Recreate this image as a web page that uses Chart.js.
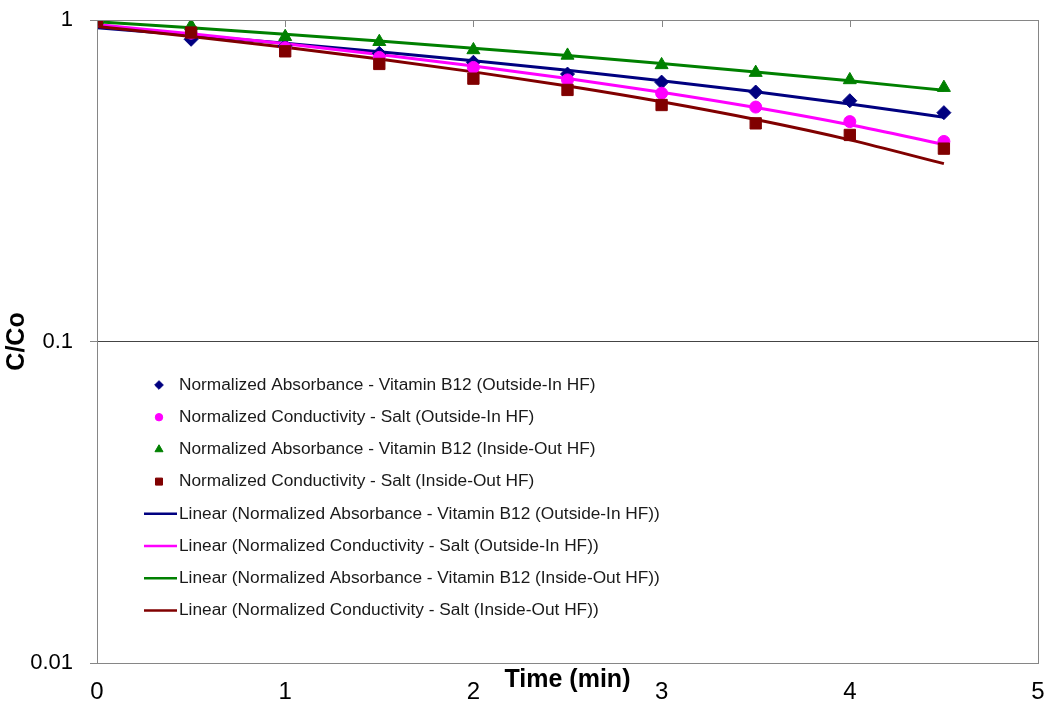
<!DOCTYPE html>
<html><head><meta charset="utf-8">
<script src="https://cdn.jsdelivr.net/npm/chart.js@4/dist/chart.umd.min.js"></script>
<style>html,body{margin:0;padding:0;background:#fff}canvas{display:block}</style>
</head><body>
<canvas id="c" width="1050" height="705"></canvas>
<script>
// ---- data ----
const timeMin = [0, 0.5, 1, 1.5, 2, 2.5, 3, 3.5, 4, 4.5];
const absB12OutsideIn = [1.0, 0.871, 0.83, 0.788, 0.739, 0.679, 0.641, 0.597, 0.561, 0.515];
const condSaltOutsideIn = [1.0, 0.91, 0.82, 0.765, 0.712, 0.651, 0.592, 0.536, 0.483, 0.419];
const absB12InsideOut = [1.0, 0.958, 0.887, 0.856, 0.807, 0.776, 0.725, 0.686, 0.651, 0.616];
const condSaltInsideOut = [1.0, 0.914, 0.799, 0.730, 0.657, 0.606, 0.544, 0.477, 0.439, 0.398];
const xTickValues = [0, 1, 2, 3, 4, 5];
const yTickValues = [0.01, 0.1, 1];
const seriesNames = [
  'Normalized Absorbance - Vitamin B12 (Outside-In HF)',
  'Normalized Conductivity - Salt (Outside-In HF)',
  'Normalized Absorbance - Vitamin B12 (Inside-Out HF)',
  'Normalized Conductivity - Salt (Inside-Out HF)'
];
const seriesValues = [absB12OutsideIn, condSaltOutsideIn, absB12InsideOut, condSaltInsideOut];
const seriesColors = ['#000080', '#FF00FF', '#008000', '#800000'];
const seriesMarkers = ['rectRot', 'circle', 'triangle', 'rect'];
const markerRadius = [7, 6, 7.5, 8];

// least-squares linear trendline (as Excel "Linear" trendline) evaluated at the data x's
function linearFit(xs, ys) {
  const n = xs.length;
  const mx = xs.reduce((a, b) => a + b, 0) / n;
  const my = ys.reduce((a, b) => a + b, 0) / n;
  let sxy = 0, sxx = 0;
  for (let i = 0; i < n; i++) { sxy += (xs[i] - mx) * (ys[i] - my); sxx += (xs[i] - mx) ** 2; }
  const b = sxy / sxx, a = my - b * mx;
  return xs.map(x => ({ x: x, y: a + b * x }));
}

const datasets = [];
seriesValues.forEach((vals, i) => {
  datasets.push({
    label: seriesNames[i],
    data: timeMin.map((t, k) => ({ x: t, y: vals[k] })),
    showLine: false,
    pointStyle: seriesMarkers[i],
    pointRadius: markerRadius[i],
    pointHoverRadius: markerRadius[i],
    backgroundColor: seriesColors[i],
    borderColor: seriesColors[i],
    borderWidth: 1,
    order: 3 - i
  });
});
seriesValues.forEach((vals, i) => {
  datasets.push({
    label: 'Linear (' + seriesNames[i] + ')',
    data: linearFit(timeMin, vals),
    showLine: true,
    pointRadius: 0,
    borderColor: seriesColors[i],
    backgroundColor: seriesColors[i],
    borderWidth: 3,
    cubicInterpolationMode: 'monotone',
    fill: false,
    order: 7 - i
  });
});

Chart.defaults.font.family = '"Liberation Sans", Arial, sans-serif';
Chart.defaults.color = '#000';

const frameAndLegend = {
  id: 'frameAndLegend',
  afterDraw(chart) {
    const ctx = chart.ctx;
    const area = chart.chartArea;
    const xs = chart.scales.x;
    ctx.save();
    // plot frame
    ctx.strokeStyle = '#868686';
    ctx.lineWidth = 1;
    ctx.strokeRect(Math.round(area.left) + 0.5, Math.round(area.top) + 0.5,
      Math.round(area.right - area.left), Math.round(area.bottom - area.top));
    // x-axis crosses at 1 (top): tick marks pointing down
    xs.ticks.forEach(t => {
      const px = Math.round(xs.getPixelForValue(t.value)) + 0.5;
      ctx.beginPath();
      ctx.moveTo(px, area.top);
      ctx.lineTo(px, area.top + 7);
      ctx.stroke();
    });
    // legend inside plot
    const lx = 159, ly0 = 385, dy = 32.2, tx = 179;
    ctx.font = '17.3px "Liberation Sans", Arial, sans-serif';
    ctx.textBaseline = 'middle';
    ctx.textAlign = 'left';
    chart.data.datasets.forEach((ds, i) => {
      const y = ly0 + i * dy;
      if (ds.showLine) {
        ctx.strokeStyle = ds.borderColor;
        ctx.lineWidth = 2.5;
        ctx.beginPath();
        ctx.moveTo(144, y);
        ctx.lineTo(177, y);
        ctx.stroke();
      } else {
        ctx.fillStyle = ds.backgroundColor;
        ctx.strokeStyle = ds.borderColor;
        ctx.lineWidth = 1;
        Chart.helpers.drawPoint(ctx, { pointStyle: ds.pointStyle, radius: ds.pointRadius * 0.62, rotation: 0, borderWidth: 1 }, lx, y);
      }
      ctx.fillStyle = '#1a1a1a';
      ctx.fillText(ds.label, tx, y);
    });
    ctx.restore();
  }
};

new Chart(document.getElementById('c'), {
  type: 'scatter',
  data: { datasets: datasets },
  options: {
    responsive: false,
    animation: false,
    events: [],
    layout: { padding: { left: 0, right: 12, top: 20, bottom: 0 } },
    plugins: { legend: { display: false }, tooltip: { enabled: false } },
    scales: {
      x: {
        type: 'linear', min: 0, max: 5,
        afterBuildTicks: s => { s.ticks = xTickValues.map(v => ({ value: v })); },
        ticks: { font: { size: 24 }, color: '#000', padding: 15, autoSkip: false, maxRotation: 0 },
        grid: { display: false, drawTicks: false },
        border: { display: true, color: '#868686' },
        title: { display: true, text: 'Time (min)', font: { size: 25, weight: 'bold' }, color: '#000', padding: { top: 0, bottom: 10 } },
        afterFit: s => { s.height = 42; s.paddingLeft = 0; s.paddingRight = 0; }
      },
      y: {
        type: 'logarithmic', min: 0.01, max: 1,
        afterBuildTicks: s => { s.ticks = yTickValues.map(v => ({ value: v })); },
        ticks: { font: { size: 22 }, color: '#000', padding: 17, autoSkip: false, callback: v => String(v) },
        grid: { color: '#444', lineWidth: 1, drawTicks: true, tickLength: 7, tickColor: '#868686' },
        border: { display: true, color: '#868686' },
        title: { display: true, text: 'C/Co', font: { size: 25, weight: 'bold' }, color: '#000', padding: { top: 2, bottom: 0 } },
        afterFit: s => { s.width = 97; s.paddingTop = 0; s.paddingBottom = 0; }
      }
    }
  },
  plugins: [frameAndLegend]
});
</script>
</body></html>
